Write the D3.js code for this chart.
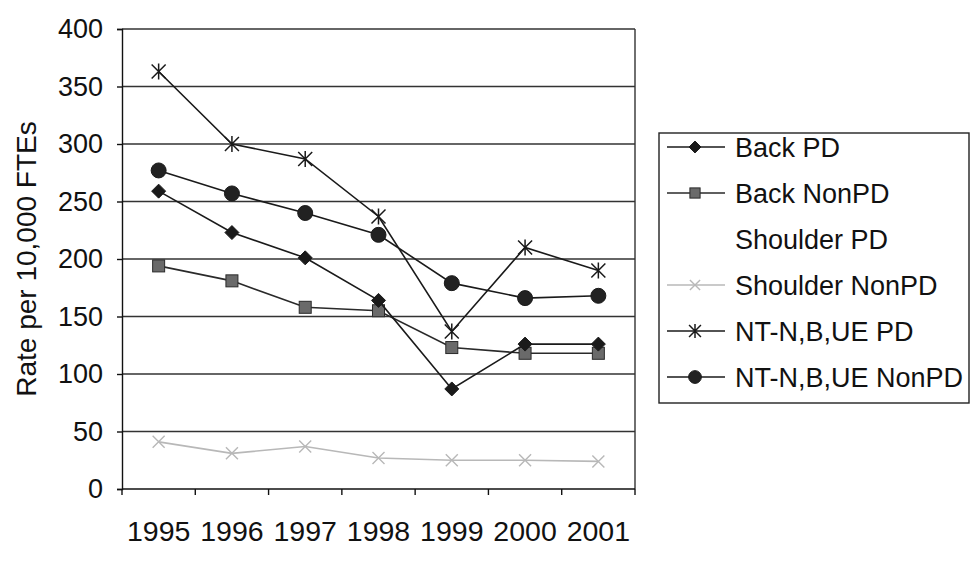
<!DOCTYPE html>
<html>
<head>
<meta charset="utf-8">
<script src="https://cdn.jsdelivr.net/npm/d3@7"></script>
<style>
  body { margin: 0; background: #fff; }
  text { font-family: "Liberation Sans", Arial, sans-serif; fill: #111; }
</style>
</head>
<body>
<div id="chart"></div>
<script>
const years = ["1995", "1996", "1997", "1998", "1999", "2000", "2001"];
const yTicks = [0, 50, 100, 150, 200, 250, 300, 350, 400];

const backPD = [259, 223, 201, 164, 87, 126, 126];
const backNonPD = [194, 181, 158, 155, 123, 118, 118];
const shoulderPD = [null, null, null, null, null, null, null]; // not visible in the picture
const shoulderNonPD = [41, 31, 37, 27, 25, 25, 24];
const ntPD = [363, 300, 287, 237, 137, 210, 190];
const ntNonPD = [277, 257, 240, 221, 179, 166, 168];

const seriesNames = ["Back PD", "Back NonPD", "Shoulder PD", "Shoulder NonPD", "NT-N,B,UE PD", "NT-N,B,UE NonPD"];
const seriesValues = [backPD, backNonPD, shoulderPD, shoulderNonPD, ntPD, ntNonPD];
const seriesStyle = [
    { stroke: "#1a1a1a", marker: "diamond", fill: "#1a1a1a" },
    { stroke: "#2a2a2a", marker: "square", fill: "#6a6a6a" },
    { stroke: "none", marker: "none", fill: "none" },
    { stroke: "#b8b8b8", marker: "x", fill: "none" },
    { stroke: "#1a1a1a", marker: "star", fill: "none" },
    { stroke: "#1a1a1a", marker: "circle", fill: "#222" }
];

const width = 972, height = 561;
const margin = { left: 122, right: 337, top: 29, bottom: 72 };
const fs = "27px";

const svg = d3.select("#chart").append("svg")
    .attr("width", width)
    .attr("height", height);

const x = d3.scaleBand().domain(years).range([margin.left, width - margin.right]);
const y = d3.scaleLinear().domain([0, 400]).range([height - margin.bottom, margin.top]);

// gridlines
svg.append("g").selectAll("line").data(yTicks.filter(d => d > 0)).enter().append("line")
    .attr("x1", margin.left).attr("x2", width - margin.right)
    .attr("y1", d => y(d)).attr("y2", d => y(d))
    .attr("stroke", "#333").attr("stroke-width", 1.4);

// right border
svg.append("line")
    .attr("x1", width - margin.right).attr("x2", width - margin.right)
    .attr("y1", y(400)).attr("y2", y(0))
    .attr("stroke", "#333").attr("stroke-width", 1.4);

// y axis
const yAxis = svg.append("g")
    .attr("transform", `translate(${margin.left},0)`)
    .call(d3.axisLeft(y).tickValues(yTicks).tickSize(5).tickPadding(14));
yAxis.selectAll("text").style("font-size", fs).attr("fill", "#111");
yAxis.selectAll("line, path").attr("stroke", "#111").attr("stroke-width", 1.4);

// x axis with ticks at category boundaries
const xAxisG = svg.append("g").attr("transform", `translate(0,${y(0)})`);
xAxisG.append("line").attr("x1", margin.left).attr("x2", width - margin.right)
    .attr("stroke", "#111").attr("stroke-width", 1.4);
const bounds = years.map(d => x(d)).concat([x(years[years.length - 1]) + x.bandwidth()]);
xAxisG.selectAll(".tk").data(bounds).enter().append("line")
    .attr("x1", d => d).attr("x2", d => d).attr("y1", 0).attr("y2", 6)
    .attr("stroke", "#111").attr("stroke-width", 1.4);
xAxisG.selectAll(".lb").data(years).enter().append("text")
    .attr("x", d => x(d) + x.bandwidth() / 2)
    .attr("y", 52)
    .attr("text-anchor", "middle")
    .style("font-size", "28.5px")
    .text(d => d);

// y title
svg.append("text")
    .attr("transform", `translate(36,${(y(0) + y(400)) / 2}) rotate(-90)`)
    .attr("text-anchor", "middle")
    .style("font-size", "28px")
    .text("Rate per 10,000 FTEs");

function drawMarker(g, type, cx, cy, st, scale = 1) {
    if (type === "diamond") {
        const r = 7 * scale;
        g.append("path").attr("d", `M${cx},${cy - r}L${cx + r},${cy}L${cx},${cy + r}L${cx - r},${cy}Z`)
            .attr("fill", st.fill).attr("stroke", st.stroke);
    } else if (type === "square") {
        const r = 6 * scale;
        g.append("rect").attr("x", cx - r).attr("y", cy - r).attr("width", 2 * r).attr("height", 2 * r)
            .attr("fill", st.fill).attr("stroke", st.stroke);
    } else if (type === "circle") {
        g.append("circle").attr("cx", cx).attr("cy", cy).attr("r", 7.5 * scale)
            .attr("fill", st.fill).attr("stroke", st.stroke);
    } else if (type === "x") {
        const r = 6 * scale;
        g.append("path").attr("d", `M${cx - r},${cy - r}L${cx + r},${cy + r}M${cx - r},${cy + r}L${cx + r},${cy - r}`)
            .attr("stroke", st.stroke).attr("stroke-width", 1.4);
    } else if (type === "star") {
        const r = 7 * scale;
        g.append("path").attr("d",
            `M${cx - r},${cy - r}L${cx + r},${cy + r}M${cx - r},${cy + r}L${cx + r},${cy - r}M${cx},${cy - r - 1}L${cx},${cy + r + 1}`)
            .attr("stroke", st.stroke).attr("stroke-width", 1.5);
    }
}

const line = d3.line()
    .defined(d => d != null)
    .x((d, i) => x(years[i]) + x.bandwidth() / 2)
    .y(d => y(d));

// draw in order so that lighter series sit underneath
const drawOrder = [3, 1, 0, 5, 4];
drawOrder.forEach(k => {
    const st = seriesStyle[k];
    const g = svg.append("g");
    g.append("path").datum(seriesValues[k]).attr("d", line)
        .attr("fill", "none").attr("stroke", st.stroke).attr("stroke-width", 1.6);
    seriesValues[k].forEach((v, i) => {
        if (v == null) return;
        drawMarker(g, st.marker, x(years[i]) + x.bandwidth() / 2, y(v), st);
    });
});

// legend
const lg = svg.append("g");
lg.append("rect").attr("x", 659).attr("y", 133).attr("width", 310).attr("height", 270)
    .attr("fill", "#fff").attr("stroke", "#222").attr("stroke-width", 1.4);
seriesNames.forEach((name, i) => {
    const cy = 147 + i * 46;
    const st = seriesStyle[i];
    if (st.stroke !== "none") {
        lg.append("line").attr("x1", 667).attr("x2", 725).attr("y1", cy).attr("y2", cy)
            .attr("stroke", st.stroke).attr("stroke-width", 1.6);
        drawMarker(lg, st.marker, 695, cy, st, 0.85);
    }
    lg.append("text").attr("x", 735).attr("y", cy + 10).style("font-size", fs).text(name);
});
</script>
</body>
</html>
